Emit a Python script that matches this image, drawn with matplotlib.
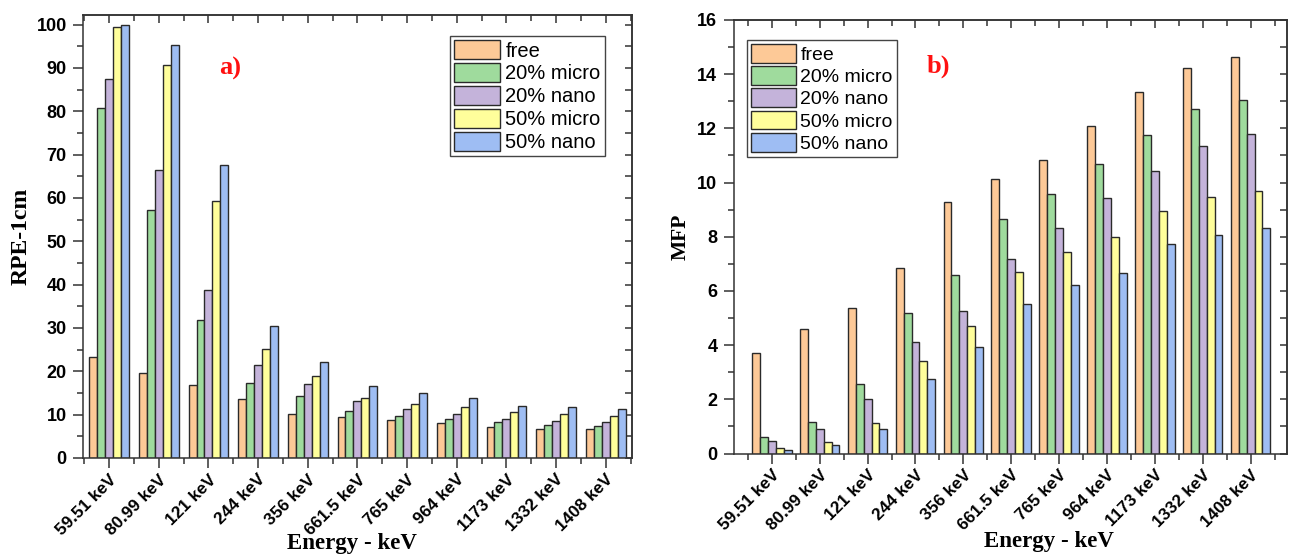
import matplotlib
matplotlib.use("Agg")
import matplotlib.pyplot as plt
import matplotlib.transforms as mtransforms
import numpy as np

categories = ["59.51 keV", "80.99 keV", "121 keV", "244 keV", "356 keV", "661.5 keV",
              "765 keV", "964 keV", "1173 keV", "1332 keV", "1408 keV"]
series_names = ["free", "20% micro", "20% nano", "50% micro", "50% nano"]

rpe_free = [23.3, 19.5, 16.8, 13.6, 10.2, 9.4, 8.8, 8.0, 7.2, 6.8, 6.6]
rpe_20micro = [80.8, 57.2, 31.9, 17.4, 14.2, 10.9, 9.8, 9.0, 8.2, 7.7, 7.4]
rpe_20nano = [87.4, 66.4, 38.7, 21.5, 17.1, 13.1, 11.2, 10.1, 9.1, 8.5, 8.2]
rpe_50micro = [99.5, 90.7, 59.2, 25.2, 19.0, 13.9, 12.5, 11.8, 10.6, 10.1, 9.8]
rpe_50nano = [100.0, 95.3, 67.5, 30.5, 22.2, 16.5, 14.9, 13.9, 12.0, 11.8, 11.2]

mfp_free = [3.72, 4.58, 5.38, 6.85, 9.29, 10.14, 10.83, 12.08, 13.34, 14.24, 14.62]
mfp_20micro = [0.60, 1.15, 2.56, 5.18, 6.57, 8.64, 9.59, 10.67, 11.74, 12.70, 13.04]
mfp_20nano = [0.46, 0.89, 2.01, 4.11, 5.27, 7.19, 8.33, 9.42, 10.41, 11.36, 11.79]
mfp_50micro = [0.22, 0.42, 1.11, 3.41, 4.72, 6.70, 7.44, 8.00, 8.95, 9.46, 9.68]
mfp_50nano = [0.12, 0.30, 0.89, 2.75, 3.94, 5.50, 6.21, 6.66, 7.74, 8.05, 8.33]

colors = ["#FDC997", "#9FDB9D", "#C4B3DA", "#FFFE9B", "#9EBDF3"]

SANS = "Liberation Sans"
SERIF = "Liberation Serif"
plt.rcParams["font.family"] = [SANS, "DejaVu Sans"]

W, H = 1289, 555
fig = plt.figure(figsize=(W / 100, H / 100), dpi=100)

def px_axes(l, r, t, b):
    return fig.add_axes([l / W, 1 - b / H, (r - l) / W, (b - t) / H])

ax1 = px_axes(83.3, 632, 15, 458)
ax2 = px_axes(734, 1287, 20, 453.5)

EDGE = "#2a2a2a"
SPINE = "#333333"

def draw(ax, data, width, xlim, ylim, ymaj, ymin):
    x = np.arange(len(categories))
    for i, (vals, c, name) in enumerate(zip(data, colors, series_names)):
        ax.bar(x + (i - 2) * width, vals, width=width, color=c, edgecolor=EDGE,
               linewidth=1.0, label=name, zorder=2)
    ax.set_xlim(*xlim)
    ax.set_ylim(*ylim)
    ax.set_xticks(x)
    ax.set_xticks(np.arange(-0.5, len(categories), 1.0), minor=True)
    labels = ax.set_xticklabels(categories, rotation=45, ha="right", va="top",
                                rotation_mode="anchor", fontsize=12.3,
                                fontweight="bold", family=SANS)
    off = mtransforms.ScaledTranslation(0.10, -0.03, fig.dpi_scale_trans)
    for lab in labels:
        lab.set_transform(lab.get_transform() + off)
    yt = np.arange(ylim[0], ylim[1] + 1e-6, ymaj)
    ax.set_yticks(yt)
    ax.set_yticks(np.arange(ylim[0], ylim[1] + 1e-6, ymin), minor=True)
    ax.set_yticklabels([f"{int(v)}" for v in yt], fontsize=13, fontweight="bold",
                       family=SANS)
    ax.tick_params(axis="both", which="major", direction="out", length=7,
                   width=1.1, color=SPINE, pad=5)
    ax.tick_params(axis="both", which="minor", direction="out", length=4,
                   width=1.1, color=SPINE)
    ax.tick_params(axis="x", which="major", pad=3)
    for s in ax.spines.values():
        s.set_color(SPINE)
        s.set_linewidth(1.1)
    top = ax.secondary_xaxis("top")
    top.set_xticks(x)
    top.set_xticks(np.arange(-0.5, len(categories), 1.0), minor=True)
    top.tick_params(which="major", direction="in", length=6, width=1.1,
                    color=SPINE, labeltop=False)
    top.tick_params(which="minor", direction="in", length=4, width=1.1,
                    color=SPINE)
    top.spines["top"].set_color(SPINE)
    top.spines["top"].set_linewidth(1.1)
    right = ax.secondary_yaxis("right")
    right.set_yticks(yt)
    right.set_yticks(np.arange(ylim[0], ylim[1] + 1e-6, ymin), minor=True)
    right.tick_params(which="major", direction="in", length=5, width=1.1,
                      color=SPINE, labelright=False)
    right.tick_params(which="minor", direction="in", length=5, width=1.1,
                      color=SPINE)
    right.spines["right"].set_color(SPINE)
    right.spines["right"].set_linewidth(1.1)

draw(ax1, [rpe_free, rpe_20micro, rpe_20nano, rpe_50micro, rpe_50nano], 0.16,
     (-0.52, 10.53), (0, 102.2), 10, 5)
draw(ax2, [mfp_free, mfp_20micro, mfp_20nano, mfp_50micro, mfp_50nano], 0.165,
     (-0.79, 10.76), (0, 16), 2, 1)

def legend(ax, x0, y0, fs):
    leg = ax.legend(loc="upper left", bbox_to_anchor=(x0 / W, 1 - y0 / H),
                    bbox_transform=fig.transFigure, borderaxespad=0,
                    fancybox=False, frameon=True, framealpha=1,
                    edgecolor="#444444", prop={"family": SANS, "size": fs},
                    handlelength=2.3, handleheight=1.1, labelspacing=0.12,
                    handletextpad=0.25, borderpad=0.2)
    leg.get_frame().set_linewidth(1.0)
    return leg

legend(ax1, 450, 36, 14.5)
legend(ax2, 747, 40, 14)

fig.text(21 / W, 1 - 236.5 / H, "RPE-1cm", rotation=90, ha="center", va="center",
         fontsize=17, fontweight="bold", family=SERIF)
fig.text(681 / W, 1 - 236.7 / H, "MFP", rotation=90, ha="center", va="center",
         fontsize=15.5, fontweight="bold", family=SERIF)
fig.text(352 / W, 1 - 549 / H, "Energy - keV", ha="center", va="baseline",
         fontsize=16.5, fontweight="bold", family=SERIF)
fig.text(1049 / W, 1 - 547 / H, "Energy - keV", ha="center", va="baseline",
         fontsize=16.5, fontweight="bold", family=SERIF)
fig.text(230 / W, 1 - 68 / H, "a)", ha="center", va="center", color="#FF1010",
         fontsize=19, fontweight="bold", family=SERIF)
fig.text(938 / W, 1 - 66 / H, "b)", ha="center", va="center", color="#FF1010",
         fontsize=19, fontweight="bold", family=SERIF)

fig.savefig("out.png", dpi=100)
